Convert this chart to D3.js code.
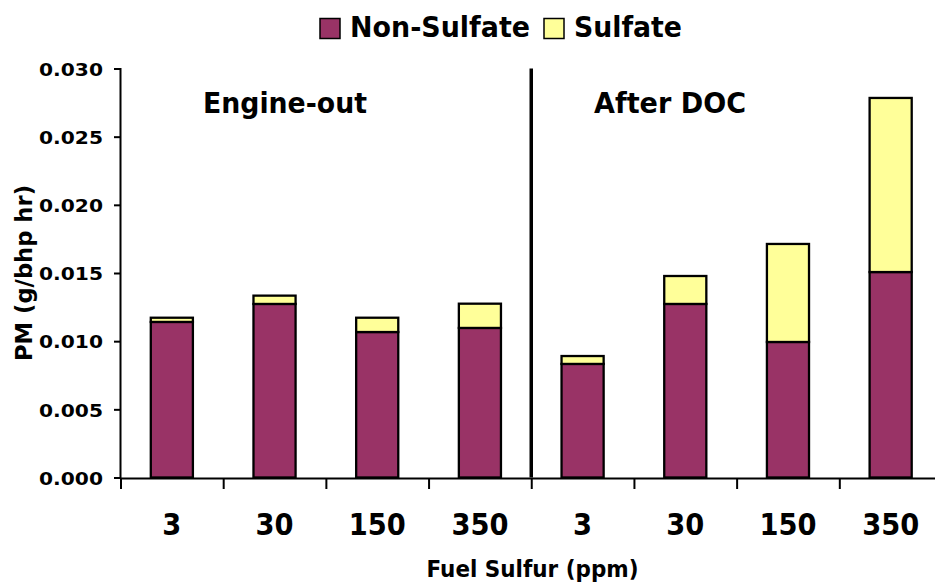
<!DOCTYPE html>
<html>
<head>
<meta charset="utf-8">
<script src="https://cdn.jsdelivr.net/npm/d3@7"></script>
<style>
  html, body { margin: 0; padding: 0; background: #fff; }
  svg { display: block; }
  text { font-family: "DejaVu Sans", Verdana, sans-serif; font-weight: bold; fill: #000; }
</style>
</head>
<body>
<svg id="chart" width="935" height="582"></svg>
<script>
// PM emissions by fuel sulfur level, engine-out vs. after the DOC
const groups = ["Engine-out", "After DOC"];
const sulfurLevels = ["3", "30", "150", "350"];
const nonSulfate = [0.01141, 0.01273, 0.01067, 0.01097, 0.00833, 0.01273, 0.00994, 0.01507];
const sulfate    = [0.00031, 0.00061, 0.00105, 0.00178, 0.00058, 0.00205, 0.00719, 0.01277];
const yTicks = [0, 0.005, 0.010, 0.015, 0.020, 0.025, 0.030];
const seriesKeys = ["Non-Sulfate", "Sulfate"];
const colors = { "Non-Sulfate": "#993366", "Sulfate": "#FFFF99" };

const rows = [];
groups.forEach((g, gi) => sulfurLevels.forEach((s, si) => {
  const i = gi * sulfurLevels.length + si;
  rows.push({ key: g + "|" + s, label: s, "Non-Sulfate": nonSulfate[i], "Sulfate": sulfate[i] });
}));

const svg = d3.select("#chart");
const plotLeft = 120.5, plotRight = 942, plotTop = 68.5, plotBottom = 477.5;

const x = d3.scaleBand().domain(rows.map(d => d.key)).range([plotLeft, plotRight])
  .paddingInner(0.59).paddingOuter(0.295);
const y = d3.scaleLinear().domain([0, 0.030]).range([plotBottom, plotTop]);
const edge = d3.scaleLinear().domain([0, rows.length]).range([plotLeft, plotRight]);

// stacked bars
const stacked = d3.stack().keys(seriesKeys)(rows);
svg.append("g").selectAll("g").data(stacked).join("g")
  .attr("fill", s => colors[s.key])
  .selectAll("rect").data(s => s).join("rect")
  .attr("x", d => x(d.data.key))
  .attr("width", x.bandwidth())
  .attr("y", d => y(d[1]))
  .attr("height", d => y(d[0]) - y(d[1]))
  .attr("stroke", "#000").attr("stroke-width", 2.3);

// y axis
const yAxis = svg.append("g").attr("transform", `translate(${plotLeft - 0.5},0)`)
  .call(d3.axisLeft(y).tickValues(yTicks).tickFormat(d3.format(".3f")).tickSizeOuter(0).tickSize(6).tickPadding(0));
yAxis.attr("font-family", null).attr("font-size", null);
yAxis.select(".domain").attr("stroke", "#000").attr("stroke-width", 2);
yAxis.selectAll(".tick line").attr("stroke", "#000").attr("stroke-width", 2);
yAxis.selectAll(".tick text")
  .attr("x", -17).attr("dy", null).attr("y", 6.8)
  .style("font-size", "18px")
  .attr("textLength", 64).attr("lengthAdjust", "spacingAndGlyphs");

// x axis: ticks sit on the category boundaries
const xAxis = svg.append("g").attr("transform", `translate(0,${plotBottom + 0.5})`)
  .call(d3.axisBottom(edge).tickValues(d3.range(rows.length + 1)).tickFormat("").tickSize(11).tickSizeOuter(0));
xAxis.select(".domain").attr("stroke", "#000").attr("stroke-width", 2);
xAxis.selectAll(".tick line").attr("stroke", "#000").attr("stroke-width", 2);

// category labels (slightly condensed digits)
svg.append("g").selectAll("text").data(rows).join("text")
  .attr("x", d => x(d.key) + x.bandwidth() / 2)
  .attr("y", 535)
  .attr("text-anchor", "middle")
  .style("font-size", "31px")
  .attr("textLength", d => d.label.length * 19)
  .attr("lengthAdjust", "spacingAndGlyphs")
  .text(d => d.label);

// group divider
svg.append("line")
  .attr("x1", edge(4)).attr("x2", edge(4))
  .attr("y1", y(0.030)).attr("y2", y(0))
  .attr("stroke", "#000").attr("stroke-width", 3.5);

// group titles
const groupTitle = [
  { text: groups[0], x: 203, len: 164 },
  { text: groups[1], x: 594, len: 152 }
];
svg.append("g").selectAll("text").data(groupTitle).join("text")
  .attr("x", d => d.x).attr("y", 113)
  .style("font-size", "29px")
  .attr("textLength", d => d.len).attr("lengthAdjust", "spacingAndGlyphs")
  .text(d => d.text);

// axis titles
svg.append("text")
  .attr("x", 532.5).attr("y", 577)
  .attr("text-anchor", "middle")
  .style("font-size", "22.5px")
  .attr("textLength", 212).attr("lengthAdjust", "spacingAndGlyphs")
  .text("Fuel Sulfur (ppm)");

svg.append("text")
  .attr("transform", "translate(32,273) rotate(-90)")
  .attr("text-anchor", "middle")
  .style("font-size", "23px")
  .attr("textLength", 176).attr("lengthAdjust", "spacingAndGlyphs")
  .text("PM (g/bhp hr)");

// legend
const legendItems = [
  { key: seriesKeys[0], sx: 320, tx: 350, len: 180 },
  { key: seriesKeys[1], sx: 544, tx: 574, len: 108 }
];
const legend = svg.append("g").selectAll("g").data(legendItems).join("g");
legend.append("rect")
  .attr("x", d => d.sx).attr("y", 18.5).attr("width", 20).attr("height", 20)
  .attr("fill", d => colors[d.key]).attr("stroke", "#000").attr("stroke-width", 1.5);
legend.append("text")
  .attr("x", d => d.tx).attr("y", 37)
  .style("font-size", "29px")
  .attr("textLength", d => d.len).attr("lengthAdjust", "spacingAndGlyphs")
  .text(d => d.key);
</script>
</body>
</html>
